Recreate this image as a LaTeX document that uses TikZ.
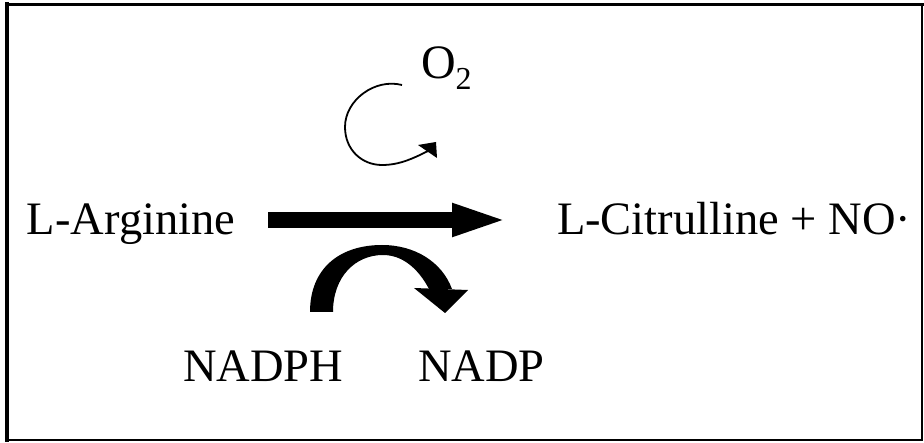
\documentclass[tikz,border=0pt]{standalone}
\usepackage{fontspec}
\setmainfont{Liberation Serif}
\usetikzlibrary{arrows.meta}
\tikzset{
  lbl/.style={anchor=base west, inner sep=0pt, outer sep=0pt, font=\fontsize{46.5}{50}\selectfont},
  frame/.style={line cap=rect}
}
\begin{document}
\begin{tikzpicture}[x=1pt,y=-1pt]
\useasboundingbox (0,0) rectangle (924,443);
\fill[white] (0,0) rectangle (924,443);
% frame
\draw[frame, line width=4pt] (7,4) -- (7,440);
\draw[frame, line width=3pt] (7,4.5) -- (922,4.5);
\draw[frame, line width=2pt] (922,4.5) -- (922,440);
\draw[frame, line width=2pt] (7,440) -- (922,440);
% texts
\node[lbl] (arg) at (27,235) {L-Arginine};
\node[lbl] (cit) at (557,235) {L-Citrulline + NO·};
\node[lbl] (nadph) at (183,382) {NADPH};
\node[lbl] (nadp) at (418,382) {NADP};
\node[lbl, font=\fontsize{48}{50}\selectfont] (o2) at (421,79) {O\raisebox{-11pt}{\fontsize{32}{32}\selectfont 2}};
% main straight arrow
\coordinate (s1) at (268,220);
\coordinate (e1) at (510,220);
\draw[line width=16.5pt, -{Triangle[length=58pt,width=29pt]}] (s1) -- (e1);
% thin O2 arc arrow
\draw[line width=1.8pt] (402,85) .. controls (375,78) and (345,100) .. (345,127)
  .. controls (345,150) and (362,165) .. (382,165)
  .. controls (400,165) and (414,158) .. (428,151);
\fill (418,145) -- (436,142) -- (437,158) -- cycle;
% fat NADPH arc arrow
\fill (310,312) .. controls (310,268) and (340,245) .. (382,245)
  .. controls (415,245) and (442,262) .. (452,289)
  -- (429,289) .. controls (418,268) and (402,255) .. (383,255)
  .. controls (355,255) and (333,277) .. (333,312) -- cycle;
\fill (414,288) -- (468,290) -- (445,313) -- cycle;
\end{tikzpicture}
\end{document}
